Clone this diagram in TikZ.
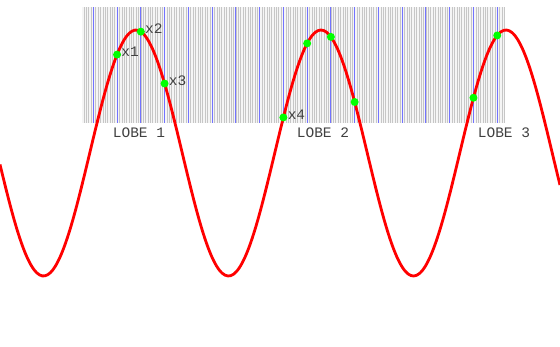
\documentclass[tikz,border=0pt]{standalone}
\usepackage{fontspec}
\setmonofont{Liberation Mono}
\usetikzlibrary{positioning}
\begin{document}
\begin{tikzpicture}[x=1pt,y=-1pt,
    declare function={wave(\t)=153-123*cos(1.94595*(\t-136));},
    fine/.style={gray!45,line width=0.45pt},
    coarse/.style={blue!55,line width=0.9pt},
    curve/.style={red,line width=2.8pt},
    dot/.style={circle,fill=green,inner sep=0pt,minimum size=8pt},
    tag/.style={font=\ttfamily\fontsize{14.5}{14.5}\selectfont,text=black!75,inner sep=0pt}]
    \useasboundingbox (0,0) rectangle (560,346);
    \fill[gray!8] (82,7) rectangle (505,123);
    \foreach \k in {-4,...,173}
      \draw[fine] ({93.3+2.376*\k},7) -- ({93.3+2.376*\k},123);
    \foreach \k in {0,...,17}
      \draw[coarse] ({93.3+23.76*\k},7) -- ({93.3+23.76*\k},123);
    \draw[curve] plot[domain=0:560,samples=200,smooth] (\x,{wave(\x)});
    \foreach \k/\n in {1/x1,2/x2,3/x3,8/x4,9/p5,10/p6,11/p7,16/p8,17/p9}
      \node[dot] (\n) at ({93.3+23.76*\k},{wave(93.3+23.76*\k)}) {};
    \foreach \n in {x1,x2,x3,x4}
      \node[tag,anchor=west] (t\n) at ([yshift=3pt]\n.east) {\n};
    \node[tag] (lobe1) at (139,133) {LOBE 1};
    \node[tag] (lobe2) at (323,133) {LOBE 2};
    \node[tag] (lobe3) at (504,133) {LOBE 3};
  \end{tikzpicture}
\end{document}
